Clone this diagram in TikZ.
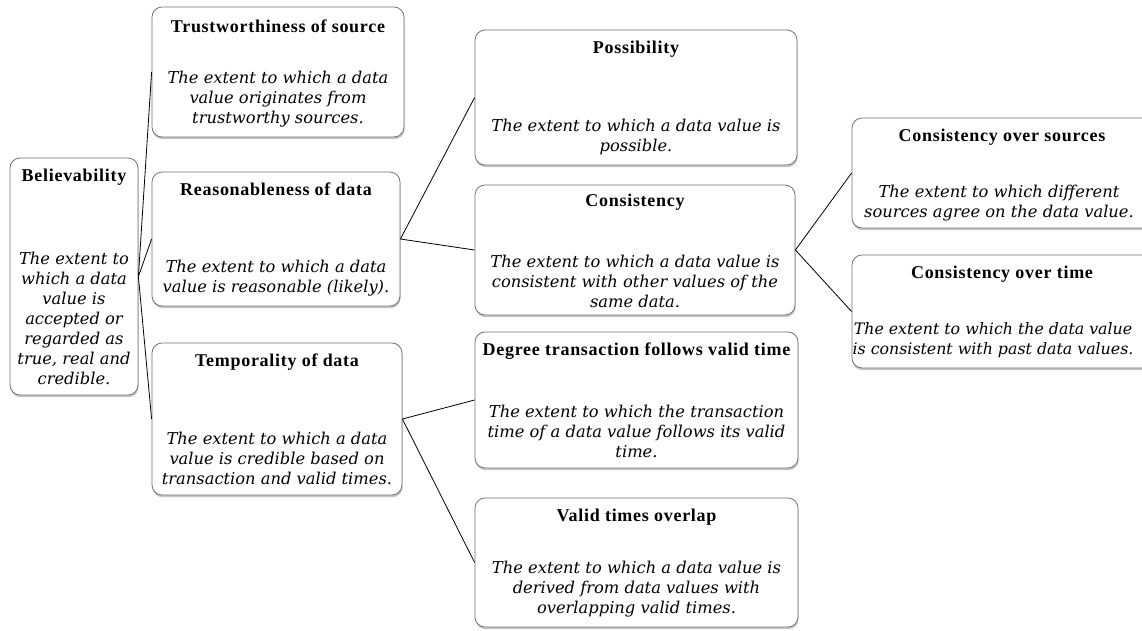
\documentclass[tikz,border=0pt]{standalone}
\usepackage{fontspec}
\setmainfont{Liberation Serif}
\newfontfamily\titlefont{Liberation Serif}[LetterSpace=4.0]
\newfontfamily\descfont{DejaVu Serif}
\usepackage{tikz}
\usetikzlibrary{positioning,shadows}

\begin{document}
\begin{tikzpicture}[x=1pt,y=-1pt,
    box/.style={draw=black!55, line width=0.8pt, rounded corners=10pt, fill=white,
        inner sep=0pt, drop shadow={shadow xshift=0.6pt, shadow yshift=-2.2pt, opacity=0.45}},
    title/.style={anchor=north, yshift=-11pt, inner sep=0pt, align=center,
        font=\titlefont\bfseries\fontsize{18}{20}\selectfont},
    desc/.style={anchor=south, yshift=10pt, inner sep=0pt, align=center,
        font=\descfont\itshape\fontsize{16.3}{20}\selectfont},
    link/.style={draw=black, line width=0.8pt}]
    \useasboundingbox[fill=white] (0,0) rectangle (1142,630);
    % boxes
    \node[box, minimum width=128pt, minimum height=237pt] (bel) at (74,276.5) {};
    \node[box, minimum width=252pt, minimum height=130pt] (trust) at (278,72) {};
    \node[box, minimum width=248pt, minimum height=134pt] (reas) at (276,239) {};
    \node[box, minimum width=250pt, minimum height=152pt] (temp) at (277,419) {};
    \node[box, minimum width=322pt, minimum height=135pt] (poss) at (636,97.5) {};
    \node[box, minimum width=320pt, minimum height=130pt] (cons) at (635,250) {};
    \node[box, minimum width=323pt, minimum height=136pt] (deg) at (636.5,400) {};
    \node[box, minimum width=323pt, minimum height=129pt] (valid) at (636.5,562.5) {};
    \node[box, minimum width=300pt, minimum height=110pt] (cos) at (1002,173) {};
    \node[box, minimum width=300pt, minimum height=113pt] (cot) at (1002,311.5) {};
    % connectors
    \draw[link] (bel.east) -- (trust.west);
    \draw[link] (bel.east) -- (reas.west);
    \draw[link] (bel.east) -- (temp.west);
    \draw[link] (reas.east) -- (poss.west);
    \draw[link] (reas.east) -- (cons.west);
    \draw[link] (cons.east) -- (cos.west);
    \draw[link] (cons.east) -- (cot.west);
    \draw[link] (temp.east) -- (deg.west);
    \draw[link] (temp.east) -- (valid.west);
    % texts
    \node[title] (bel-t) at (bel.north) {Believability};
    \node[desc] (bel-d) at (bel.south) {The extent to\\which a data\\value is\\accepted or\\regarded as\\true, real and\\credible.};
    \node[title, yshift=-2pt] (trust-t) at (trust.north) {Trustworthiness of source};
    \node[desc] (trust-d) at (trust.south) {The extent to which a data\\value originates from\\trustworthy sources.};
    \node[title] (reas-t) at (reas.north) {Reasonableness of data};
    \node[desc] (reas-d) at (reas.south) {The extent to which a data\\value is reasonable (likely).};
    \node[title] (temp-t) at (temp.north) {Temporality of data};
    \node[desc] (temp-d) at (temp.south) {The extent to which a data\\value is credible based on\\transaction and valid times.};
    \node[title] (poss-t) at (poss.north) {Possibility};
    \node[desc] (poss-d) at (poss.south) {The extent to which a data value is\\possible.};
    \node[title, yshift=2pt] (cons-t) at (cons.north) {Consistency};
    \node[desc, yshift=-3pt] (cons-d) at (cons.south) {The extent to which a data value is\\consistent with other values of the\\same data.};
    \node[title] (deg-t) at (deg.north) {Degree transaction follows valid time};
    \node[desc] (deg-d) at (deg.south) {The extent to which the transaction\\time of a data value follows its valid\\time.};
    \node[title] (valid-t) at (valid.north) {Valid times overlap};
    \node[desc] (valid-d) at (valid.south) {The extent to which a data value is\\derived from data values with\\overlapping valid times.};
    \node[title] (cos-t) at (cos.north) {Consistency over sources};
    \node[desc, yshift=-3pt, xshift=-3pt] (cos-d) at (cos.south) {The extent to which different\\sources agree on the data value.};
    \node[title] (cot-t) at (cot.north) {Consistency over time};
    \node[desc, xshift=-9pt, font=\descfont\itshape\fontsize{15.8}{20}\selectfont] (cot-d) at (cot.south) {The extent to which the data value\\is consistent with past data values.};
\end{tikzpicture}
\end{document}
